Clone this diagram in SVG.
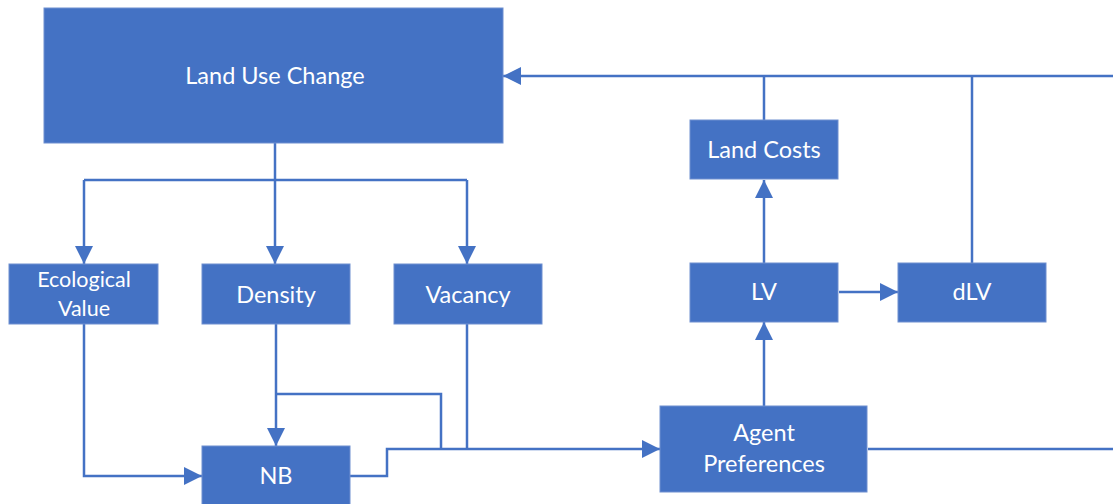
<svg xmlns="http://www.w3.org/2000/svg" width="1113" height="504" viewBox="0 0 1113 504">
<style>
.box{fill:#4472C4;stroke:#6E8FD0;stroke-width:1}
.t{fill:#ffffff;font-family:Lato,"Open Sans","Liberation Sans",sans-serif;font-size:23.5px;text-anchor:middle;dominant-baseline:central}
.s{font-size:21.5px}
.c{fill:none;stroke:#4472C4;stroke-width:2.5}
</style>
<defs>
<marker id="ah" markerUnits="userSpaceOnUse" markerWidth="18" markerHeight="18" refX="18" refY="9" orient="auto">
<path d="M0,0 L18,9 L0,18 z" fill="#4472C4"/>
</marker>
</defs>
<g id="connectors">
<path class="c" d="M1113,76 L503,76" marker-end="url(#ah)"/>
<path class="c" d="M764,120 L764,76"/>
<path class="c" d="M972,263 L972,76"/>
<path class="c" d="M275,143 L275,180"/>
<path class="c" d="M84,180 L467,180"/>
<path class="c" d="M84,180 L84,264" marker-end="url(#ah)"/>
<path class="c" d="M275,180 L275,264" marker-end="url(#ah)"/>
<path class="c" d="M467,180 L467,264" marker-end="url(#ah)"/>
<path class="c" d="M764,263 L764,180" marker-end="url(#ah)"/>
<path class="c" d="M839,292 L898,292" marker-end="url(#ah)"/>
<path class="c" d="M764,406 L764,322" marker-end="url(#ah)"/>
<path class="c" d="M868,449 L1113,449"/>
<path class="c" d="M84,324 L84,476 L202,476" marker-end="url(#ah)"/>
<path class="c" d="M276,324 L276,446" marker-end="url(#ah)"/>
<path class="c" d="M276,394 L441,394 L441,449"/>
<path class="c" d="M467,324 L467,449"/>
<path class="c" d="M350,476 L387,476 L387,449 L660,449" marker-end="url(#ah)"/>
</g>
<g id="land-use-change"><rect class="box" x="44" y="8" width="459" height="135"/><text class="t" x="275" y="75" font-size="24">Land Use Change</text></g>
<g id="ecological-value"><rect class="box" x="9" y="264" width="149" height="60"/><text class="t s" x="84" y="279">Ecological</text><text class="t s" x="84" y="308">Value</text></g>
<g id="density"><rect class="box" x="202" y="264" width="148" height="60"/><text class="t" x="276" y="294">Density</text></g>
<g id="vacancy"><rect class="box" x="394" y="264" width="148" height="60"/><text class="t" x="468" y="294">Vacancy</text></g>
<g id="land-costs"><rect class="box" x="690" y="120" width="148" height="59"/><text class="t" x="764" y="149">Land Costs</text></g>
<g id="lv"><rect class="box" x="690" y="263" width="148" height="59"/><text class="t" x="764" y="291">LV</text></g>
<g id="dlv"><rect class="box" x="898" y="263" width="148" height="59"/><text class="t" x="972" y="291">dLV</text></g>
<g id="agent-preferences"><rect class="box" x="660" y="406" width="207" height="86"/><text class="t" x="764" y="432">Agent</text><text class="t" x="764" y="463">Preferences</text></g>
<g id="nb"><rect class="box" x="202" y="446" width="148" height="62"/><text class="t" x="276" y="475">NB</text></g>
</svg>
